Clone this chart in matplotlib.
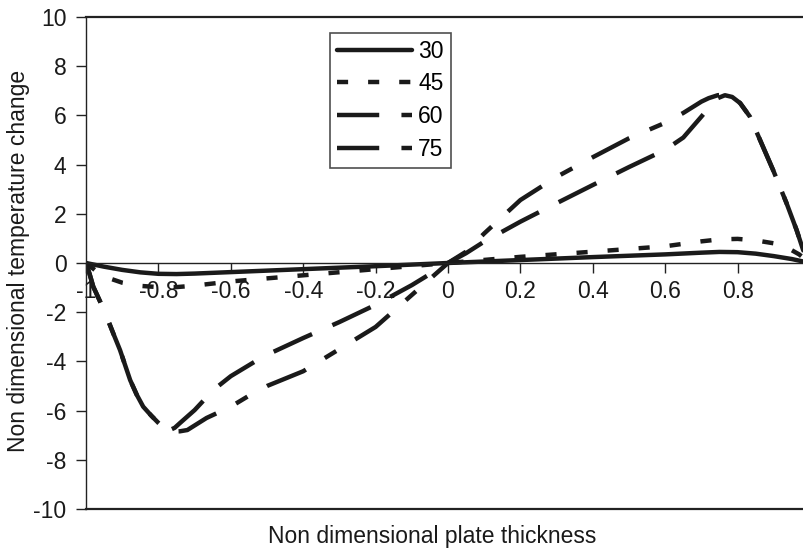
import numpy as np
import matplotlib
matplotlib.use('Agg')
import matplotlib.pyplot as plt

plt.rcParams['font.family'] = ['Liberation Sans', 'DejaVu Sans']
plt.rcParams['axes.unicode_minus'] = False

# thickness coordinate / temperature change for each curve
x30 = [-1.0, -0.95, -0.9, -0.85, -0.8, -0.75, -0.7, -0.6, -0.4, -0.2, 0.0,
       0.2, 0.4, 0.6, 0.7, 0.75, 0.8, 0.85, 0.9, 0.95, 1.0]
y30 = [0.0, -0.15, -0.28, -0.38, -0.44, -0.45, -0.43, -0.37, -0.25, -0.13, 0.0,
       0.12, 0.24, 0.35, 0.42, 0.45, 0.44, 0.38, 0.28, 0.16, 0.0]

x45 = [-1.0, -0.97, -0.94, -0.9, -0.85, -0.8, -0.75, -0.7, -0.6, -0.4, -0.2, 0.0,
       0.2, 0.4, 0.6, 0.7, 0.75, 0.8, 0.85, 0.9, 0.94, 0.97, 1.0]
y45 = [0.0, -0.35, -0.6, -0.8, -0.93, -0.98, -0.98, -0.92, -0.75, -0.5, -0.25, 0.0,
       0.25, 0.46, 0.68, 0.88, 0.96, 0.98, 0.92, 0.8, 0.6, 0.35, 0.0]

x60 = [-1.0, -0.99, -0.98, -0.96, -0.943, -0.925, -0.906, -0.878, -0.86, -0.842, -0.82, -0.8, -0.785,
       -0.77, -0.755, -0.74, -0.7, -0.648, -0.6, -0.51, -0.4, -0.3, -0.2, -0.1, 0.0,
       0.05, 0.1, 0.2, 0.3, 0.4, 0.5, 0.6, 0.65, 0.7, 0.72, 0.745, 0.765, 0.785,
       0.807, 0.834, 0.862, 0.898, 0.935, 0.963, 0.981, 1.0]
y60 = [0.0, -0.45, -0.96, -1.6, -2.18, -2.85, -3.54, -4.76, -5.35, -5.84, -6.2, -6.5, -6.7,
       -6.8, -6.7, -6.5, -5.98, -5.16, -4.6, -3.8, -3.05, -2.4, -1.7, -0.9, 0.0,
       0.4, 0.87, 1.68, 2.43, 3.17, 3.9, 4.6, 5.1, 5.95, 6.3, 6.7, 6.82, 6.75,
       6.5, 5.95, 5.0, 3.78, 2.44, 1.34, 0.53, 0.0]

x75 = [-1.0, -0.99, -0.98, -0.96, -0.943, -0.925, -0.906, -0.878, -0.86, -0.842, -0.82, -0.8, -0.785,
       -0.77, -0.755, -0.74, -0.72, -0.667, -0.6, -0.547, -0.5, -0.4, -0.3, -0.2, -0.1, 0.0,
       0.05, 0.1, 0.2, 0.3, 0.4, 0.5, 0.6, 0.65, 0.7, 0.72, 0.745, 0.765, 0.785,
       0.807, 0.834, 0.862, 0.898, 0.935, 0.963, 0.981, 1.0]
y75 = [0.0, -0.45, -0.96, -1.6, -2.18, -2.85, -3.54, -4.76, -5.35, -5.84, -6.2, -6.5, -6.7,
       -6.82, -6.85, -6.84, -6.79, -6.3, -5.84, -5.37, -5.0, -4.4, -3.5, -2.6, -1.3, 0.0,
       0.46, 1.2, 2.56, 3.5, 4.3, 5.07, 5.7, 6.1, 6.56, 6.7, 6.82, 6.85, 6.78,
       6.5, 5.95, 5.0, 3.78, 2.44, 1.34, 0.53, 0.0]

xticks = [-1, -0.8, -0.6, -0.4, -0.2, 0, 0.2, 0.4, 0.6, 0.8]
xtick_labels = ['-1', '-0.8', '-0.6', '-0.4', '-0.2', '0', '0.2', '0.4', '0.6', '0.8']
yticks = [-10, -8, -6, -4, -2, 0, 2, 4, 6, 8, 10]

fs = 16.5
ink = '#1a1a1a'
fig = plt.figure(figsize=(8.04, 5.5), dpi=100)
# axes runs a bit past the right edge (the original picture is cropped there)
ax = fig.add_axes([86/804, 41/550, 724/804, 492/550])

lw = 3.2
ax.plot(x30, y30, color=ink, lw=lw, solid_capstyle='round', label='30')
ax.plot(x45, y45, color=ink, lw=lw, linestyle=(0, (2.5, 4.5)), label='45')
ax.plot(x60, y60, color=ink, lw=lw, linestyle=(0, (9.5, 5)), label='60')
ax.plot(x75, y75, color=ink, lw=lw, linestyle=(0, (9.5, 5, 3, 5)), label='75')

ax.set_xlim(-1, 1)
ax.set_ylim(-10, 10)

ax.spines['bottom'].set_position(('data', 0))
ax.spines['right'].set_visible(False)
for s in ['bottom', 'left', 'top']:
    ax.spines[s].set_color('#222222')
    ax.spines[s].set_linewidth(1.0)
ax.axhline(-10, color='#222222', lw=1.6, clip_on=False)
ax.spines['top'].set_linewidth(1.6)

ax.set_xticks(xticks)
ax.set_xticklabels(xtick_labels)
ax.set_yticks(yticks)
ax.tick_params(axis='both', direction='out', length=7, width=1, color='#222222',
               labelsize=fs, labelcolor=ink)
ax.tick_params(axis='x', pad=5)
ax.tick_params(axis='y', pad=7)

fig.text(432/804, 1 - 537/550, 'Non dimensional plate thickness', ha='center', va='center',
         fontsize=fs, color=ink)
fig.text(19/804, 1 - 261/550, 'Non dimensional temperature change', ha='center', va='center',
         rotation=90, fontsize=fs, color=ink)

leg = ax.legend(loc='upper left', bbox_to_anchor=((330-86)/724, (509-33)/492),
                borderaxespad=0, fontsize=fs, handlelength=3.3, handletextpad=0.25,
                labelspacing=0.42, borderpad=0.3, frameon=True, fancybox=False)
leg.get_frame().set_edgecolor('#222222')
leg.get_frame().set_linewidth(1.2)

fig.savefig('out.png', dpi=100)
